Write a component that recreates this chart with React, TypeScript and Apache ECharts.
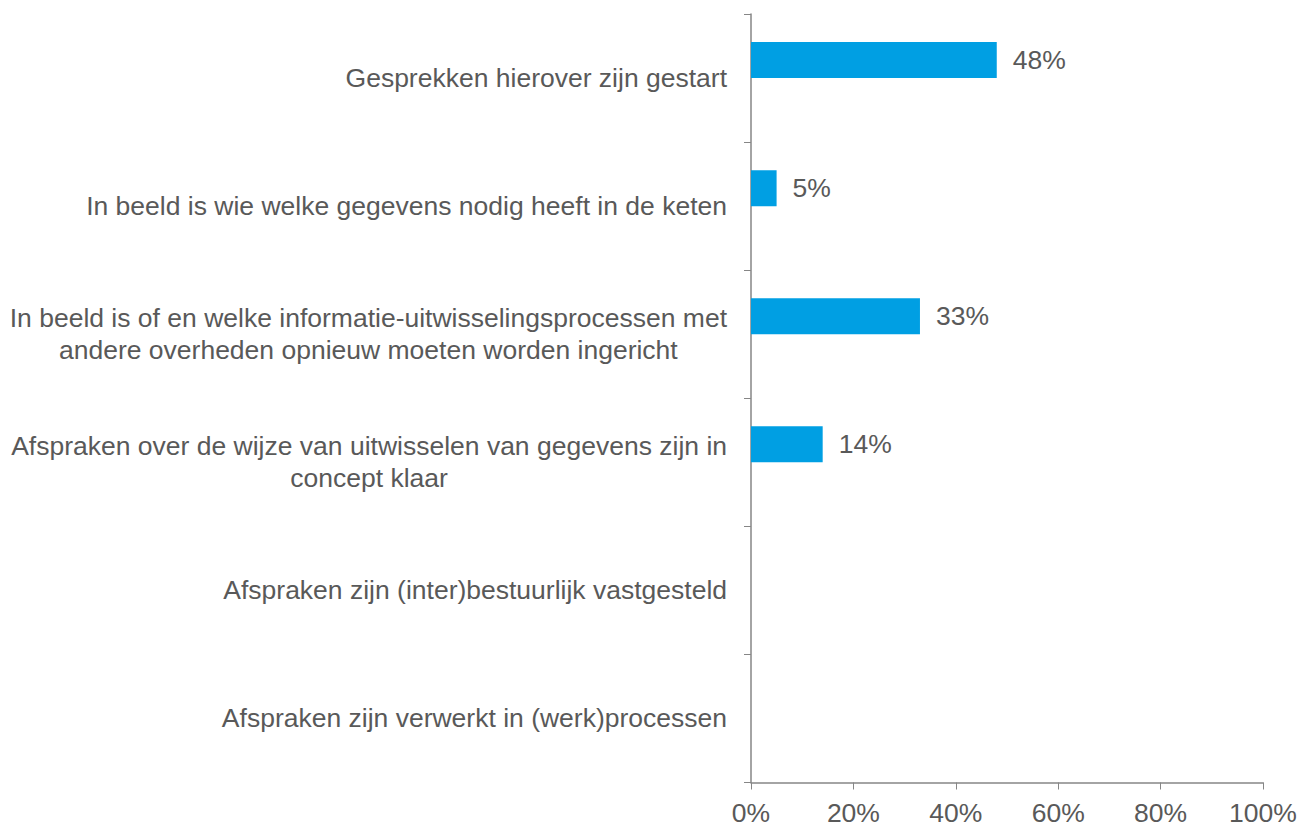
import React, { useEffect, useRef } from "react";
import * as echarts from "echarts";

// Answer categories, top to bottom
const categories: string[] = [
  "Gesprekken hierover zijn gestart",
  "In beeld is wie welke gegevens nodig heeft in de keten",
  "In beeld is of en welke informatie-uitwisselingsprocessen met\nandere overheden opnieuw moeten worden ingericht",
  "Afspraken over de wijze van uitwisselen van gegevens zijn in\nconcept klaar",
  "Afspraken zijn (inter)bestuurlijk vastgesteld",
  "Afspraken zijn verwerkt in (werk)processen",
];

// Share of respondents (%) per category
const shares: number[] = [48, 5, 33, 14, 0, 0];
// Companion (empty) series occupying the lower half of each band
const companion: number[] = [0, 0, 0, 0, 0, 0];

const xTicks: number[] = [0, 20, 40, 60, 80, 100];

const TEXT = "#595959";
const AXIS = "#868686";
const BLUE = "#009FE3";
const FONT = "'Liberation Sans', Arial, Helvetica, sans-serif";
const FS = 26.5;

export default function App() {
  const ref = useRef<HTMLDivElement>(null);

  useEffect(() => {
    if (!ref.current) return;
    const chart = echarts.init(ref.current, null, { renderer: "svg" });

    const richLabel = (value: string) =>
      value
        .split("\n")
        .map((line) => `{c|${line}}`)
        .join("\n");

    chart.setOption({
      animation: false,
      backgroundColor: "#ffffff",
      textStyle: { fontFamily: FONT },
      grid: { left: 751, right: 41, top: 14, bottom: 43, containLabel: false },
      xAxis: {
        type: "value",
        min: xTicks[0],
        max: xTicks[xTicks.length - 1],
        interval: 20,
        axisLine: { show: true, lineStyle: { color: AXIS, width: 1.5 } },
        axisTick: { show: true, length: 7, lineStyle: { color: AXIS, width: 1 } },
        splitLine: { show: false },
        axisLabel: {
          formatter: "{value}%",
          fontSize: FS,
          lineHeight: 22,
          color: TEXT,
          fontFamily: FONT,
          margin: 19,
        },
      },
      yAxis: {
        type: "category",
        data: categories,
        inverse: true,
        axisLine: { show: true, lineStyle: { color: AXIS, width: 1.5 } },
        axisTick: { show: true, length: 7, lineStyle: { color: AXIS, width: 1 } },
        axisLabel: {
          align: "right",
          margin: 24,
          formatter: richLabel,
          rich: {
            c: {
              align: "center",
              fontSize: FS,
              lineHeight: 32,
              color: TEXT,
              fontFamily: FONT,
            },
          },
        },
      },
      series: [
        {
          type: "bar",
          data: shares,
          barWidth: 36,
          barGap: "0%",
          itemStyle: { color: BLUE },
          label: {
            show: true,
            position: "right",
            distance: 16,
            fontSize: FS,
            color: TEXT,
            fontFamily: FONT,
            formatter: (p: any) => (p.value > 0 ? `${p.value}%` : ""),
          },
        },
        {
          type: "bar",
          data: companion,
          barWidth: 36,
          barGap: "0%",
          itemStyle: { color: "#ffffff" },
          label: { show: false },
        },
      ],
    });

    return () => chart.dispose();
  }, []);

  return (
    <div
      ref={ref}
      style={{ position: "fixed", left: 0, top: 0, width: 1304, height: 826 }}
    />
  );
}
